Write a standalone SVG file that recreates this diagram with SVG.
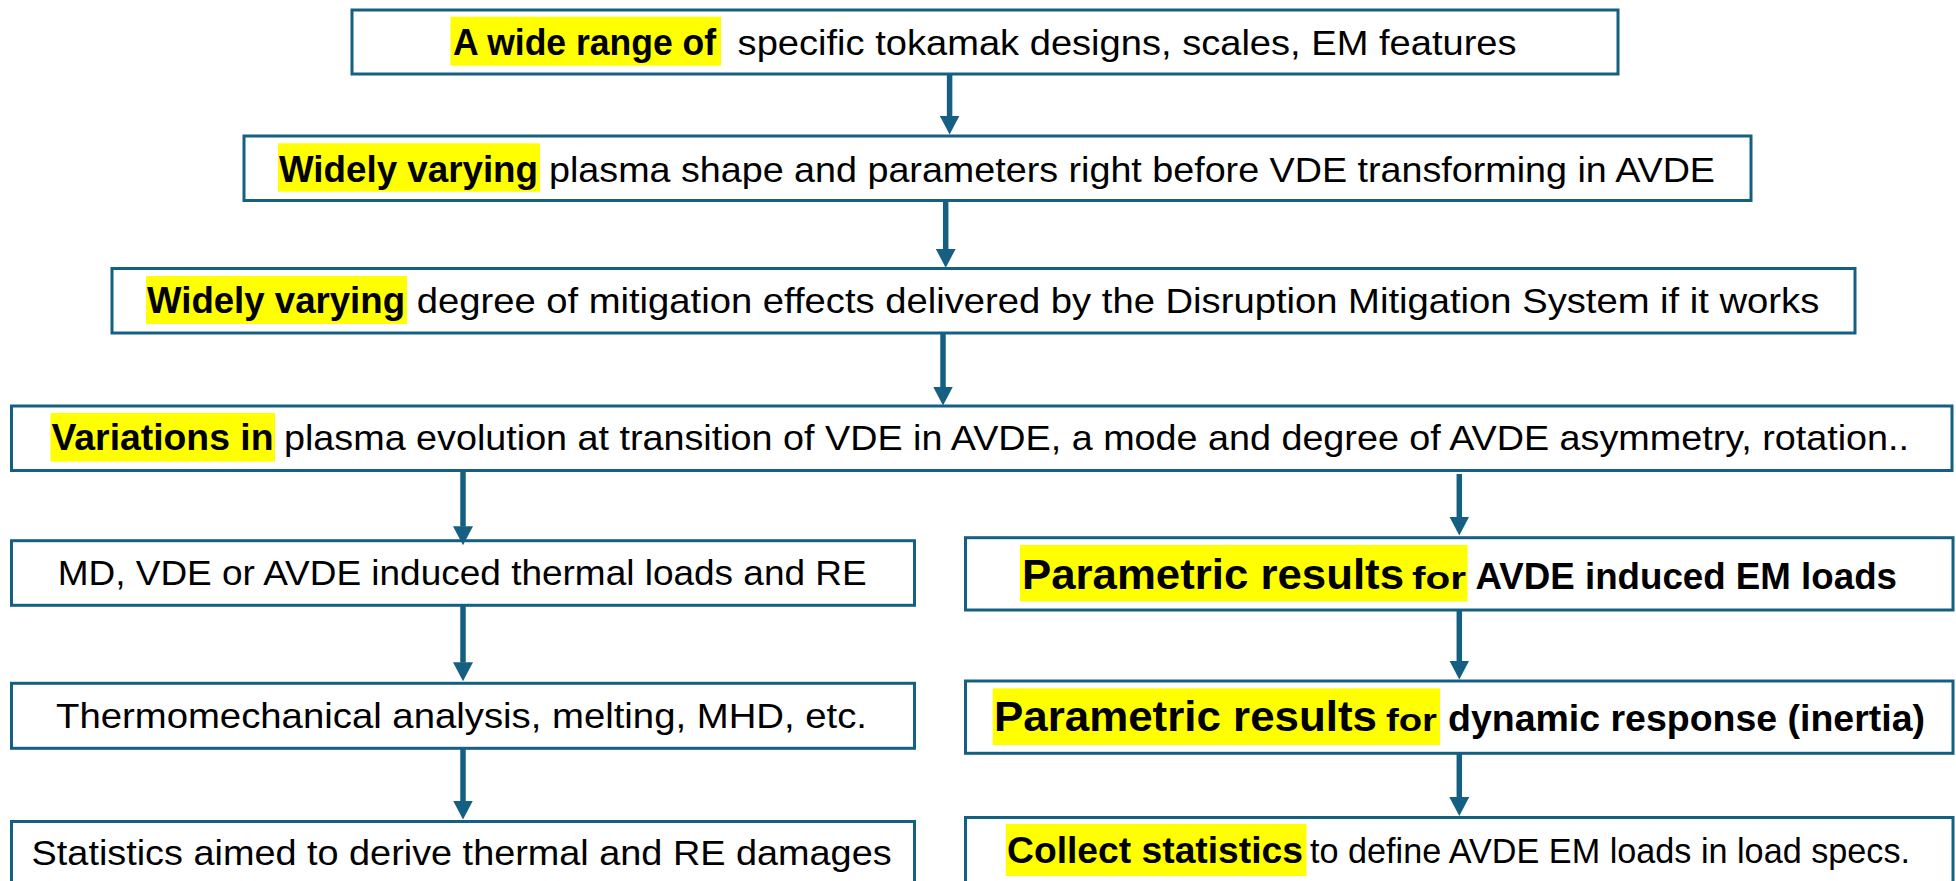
<svg xmlns="http://www.w3.org/2000/svg" width="1956" height="881" viewBox="0 0 1956 881">
<style>
.box{fill:#fff;stroke:#156082;stroke-width:3}
.hl{fill:#ffff00}
.t{font-family:"Liberation Sans",Arial,sans-serif;fill:#000;font-size:35px}
.b{font-weight:bold;font-size:36px}
.big{font-weight:bold;font-size:43px}
.sm{font-weight:bold;font-size:31px}
.conn line{stroke:#156082;stroke-width:5.5;marker-end:url(#ah)}
</style>
<defs>
<marker id="ah" viewBox="0 0 19 20" refX="0.5" refY="10" markerWidth="19" markerHeight="20" markerUnits="userSpaceOnUse" orient="auto">
<path d="M0,0 L19,10 L0,20 Z" fill="#156082"/>
</marker>
</defs>
<rect width="1956" height="881" fill="#fff"/>

<g id="n1">
<rect class="box" x="352" y="10" width="1266" height="64"/>
<rect class="hl" x="450.5" y="16.7" width="270.5" height="49"/>
<text class="t b" x="453" y="55" textLength="263" lengthAdjust="spacingAndGlyphs">A wide range of</text>
<text class="t" x="737.6" y="55" textLength="779" lengthAdjust="spacingAndGlyphs">specific tokamak designs, scales, EM features</text>
</g>

<g id="n2">
<rect class="box" x="244" y="136" width="1507" height="64.5"/>
<rect class="hl" x="278" y="143.3" width="262" height="48.4"/>
<text class="t b" x="279" y="181.7" textLength="259" lengthAdjust="spacingAndGlyphs">Widely varying</text>
<text class="t" x="549" y="181.7" textLength="1166" lengthAdjust="spacingAndGlyphs">plasma shape and parameters right before VDE transforming in AVDE</text>
</g>

<g id="n3">
<rect class="box" x="112" y="268.5" width="1743" height="64.5"/>
<rect class="hl" x="146" y="276" width="261" height="48"/>
<text class="t b" x="147" y="313.3" textLength="258" lengthAdjust="spacingAndGlyphs">Widely varying</text>
<text class="t" x="416.7" y="313.3" textLength="1402.6" lengthAdjust="spacingAndGlyphs">degree of mitigation effects delivered by the Disruption Mitigation System if it works</text>
</g>

<g id="n4">
<rect class="box" x="11.5" y="406" width="1940.5" height="64.5"/>
<rect class="hl" x="50.5" y="413" width="224.5" height="48.7"/>
<text class="t b" x="51.5" y="450" textLength="222" lengthAdjust="spacingAndGlyphs">Variations in</text>
<text class="t" x="284" y="450" textLength="1625" lengthAdjust="spacingAndGlyphs">plasma evolution at transition of VDE in AVDE, a mode and degree of AVDE asymmetry, rotation..</text>
</g>

<g id="l1">
<rect class="box" x="11.5" y="540.7" width="903" height="64.6"/>
<text class="t" x="57.7" y="585" textLength="809" lengthAdjust="spacingAndGlyphs">MD, VDE or AVDE induced thermal loads and RE</text>
</g>

<g id="l2">
<rect class="box" x="11.5" y="683.3" width="903" height="65"/>
<text class="t" x="56" y="728" textLength="811" lengthAdjust="spacingAndGlyphs">Thermomechanical analysis, melting, MHD, etc.</text>
</g>

<g id="l3">
<rect class="box" x="11.5" y="821.5" width="903" height="80"/>
<text class="t" x="31.6" y="865" textLength="860" lengthAdjust="spacingAndGlyphs">Statistics aimed to derive thermal and RE damages</text>
</g>

<g id="r1">
<rect class="box" x="965.5" y="537.7" width="987.5" height="72.3"/>
<rect class="hl" x="1020" y="545" width="447.5" height="56.5"/>
<text class="t big" x="1022" y="589" textLength="382" lengthAdjust="spacingAndGlyphs">Parametric results</text>
<text class="t sm" x="1412" y="589" textLength="54" lengthAdjust="spacingAndGlyphs">for</text>
<text class="t b" x="1475.5" y="589" textLength="421.5" lengthAdjust="spacingAndGlyphs">AVDE induced EM loads</text>
</g>

<g id="r2">
<rect class="box" x="965.5" y="681" width="987.5" height="72.3"/>
<rect class="hl" x="992.7" y="688.3" width="447.3" height="56.7"/>
<text class="t big" x="994" y="731" textLength="383" lengthAdjust="spacingAndGlyphs">Parametric results</text>
<text class="t sm" x="1386" y="731" textLength="51" lengthAdjust="spacingAndGlyphs">for</text>
<text class="t b" x="1448" y="731" textLength="477" lengthAdjust="spacingAndGlyphs">dynamic response (inertia)</text>
</g>

<g id="r3">
<rect class="box" x="965.5" y="817.5" width="987.5" height="80"/>
<rect class="hl" x="1005.8" y="824" width="300.7" height="52"/>
<text class="t b" x="1007" y="863" textLength="296" lengthAdjust="spacingAndGlyphs">Collect statistics</text>
<text class="t" x="1310" y="863" textLength="600" lengthAdjust="spacingAndGlyphs">to define AVDE EM loads in load specs.</text>
</g>

<g id="connectors" class="conn">
<line x1="949.6" y1="74" x2="949.6" y2="116"/>
<line x1="945.7" y1="200.5" x2="945.7" y2="249.3"/>
<line x1="943" y1="333" x2="943" y2="387"/>
<line x1="463" y1="470.5" x2="463" y2="526.7"/>
<line x1="463" y1="605.3" x2="463" y2="662.7"/>
<line x1="463" y1="748.3" x2="463" y2="801"/>
<line x1="1459.3" y1="474" x2="1459.3" y2="517"/>
<line x1="1459.3" y1="610" x2="1459.3" y2="661"/>
<line x1="1459.3" y1="753.3" x2="1459.3" y2="797.5"/>
</g>
</svg>
